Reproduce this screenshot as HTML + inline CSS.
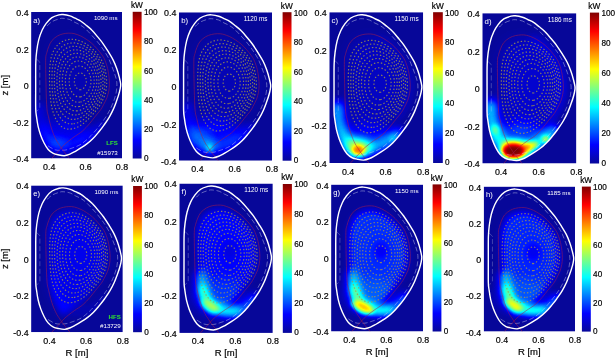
<!DOCTYPE html>
<html lang="en"><head><meta charset="utf-8"><title>Radiation tomography LFS vs HFS</title>
<style>html,body{margin:0;padding:0;background:#fff}body{width:616px;height:360px;overflow:hidden}svg{display:block}text{font-family:"Liberation Sans",Arial,Helvetica,sans-serif;fill:#000}.t{font-size:8.9px}.c{font-size:8.2px}.t,.c,.l{stroke:#000;stroke-width:.18px}.l{font-size:9.5px}.w{fill:#fff;font-size:6.2px}.p{fill:#fff;font-size:7.6px}</style></head><body>
<svg width="616" height="360" viewBox="0 0 616 360">
<defs>
<linearGradient id="jet" x1="0" y1="1" x2="0" y2="0">
<stop offset="0" stop-color="#08089a"/>
<stop offset="0.125" stop-color="#0000ff"/>
<stop offset="0.375" stop-color="#00ffff"/>
<stop offset="0.625" stop-color="#ffff00"/>
<stop offset="0.875" stop-color="#ff0000"/>
<stop offset="1" stop-color="#800000"/>
</linearGradient>
<filter id="jm" x="0" y="0" width="100%" height="100%" filterUnits="objectBoundingBox" color-interpolation-filters="sRGB"><feComponentTransfer><feFuncR type="table" tableValues="0.03 0 0 0 0.5 1 1 1 0.5"/><feFuncG type="table" tableValues="0.03 0 0.5 1 1 1 0.5 0 0"/><feFuncB type="table" tableValues="0.6 1 1 1 0.5 0 0 0 0"/></feComponentTransfer></filter>
<filter id="b2" x="-100%" y="-100%" width="300%" height="300%" color-interpolation-filters="sRGB"><feGaussianBlur stdDeviation="2"/></filter>
<filter id="b3" x="-100%" y="-100%" width="300%" height="300%" color-interpolation-filters="sRGB"><feGaussianBlur stdDeviation="3"/></filter>
<filter id="b4" x="-100%" y="-100%" width="300%" height="300%" color-interpolation-filters="sRGB"><feGaussianBlur stdDeviation="4"/></filter>
<filter id="b6" x="-100%" y="-100%" width="300%" height="300%" color-interpolation-filters="sRGB"><feGaussianBlur stdDeviation="6"/></filter>
<filter id="b8" x="-100%" y="-100%" width="300%" height="300%" color-interpolation-filters="sRGB"><feGaussianBlur stdDeviation="8"/></filter>
<filter id="b12" x="-100%" y="-100%" width="300%" height="300%" color-interpolation-filters="sRGB"><feGaussianBlur stdDeviation="12"/></filter>
<path id="ves" d="M31.9 2.5C33.8 2.7 36.9 3.3 38.9 3.9C40.9 4.5 42.2 5.4 44.0 6.2C45.8 7.1 47.8 7.8 49.6 9.0C51.5 10.2 53.2 11.7 55.1 13.2C57.0 14.7 58.9 16.1 60.7 18.0C62.6 19.9 64.4 22.1 66.2 24.3C68.0 26.5 70.0 28.7 71.8 31.2C73.6 33.8 75.6 36.8 77.3 39.6C79.0 42.4 80.8 45.1 82.2 47.9C83.6 50.7 84.7 53.5 85.7 56.3C86.7 59.1 87.6 62.2 88.2 64.7C88.8 67.2 89.4 69.5 89.6 71.0C89.8 72.5 89.8 72.5 89.6 74.0C89.4 75.5 89.1 77.5 88.4 79.9C87.8 82.3 86.7 85.6 85.7 88.3C84.7 91.0 83.8 93.6 82.6 96.3C81.4 99.0 79.9 101.9 78.3 104.7C76.7 107.5 74.6 110.4 72.8 113.0C71.0 115.6 69.0 118.0 67.2 120.2C65.4 122.4 63.6 124.5 61.7 126.3C59.9 128.1 58.0 129.8 56.1 131.2C54.2 132.6 52.6 133.7 50.6 135.0C48.6 136.3 46.4 137.7 44.4 138.8C42.4 139.9 40.8 140.9 38.9 141.6C37.0 142.3 35.1 143.0 33.3 143.2C31.4 143.3 29.6 142.9 27.8 142.5C26.0 142.1 24.0 141.8 22.2 140.9C20.4 140.0 18.6 138.7 17.1 137.0C15.6 135.3 14.2 133.0 13.0 130.6C11.8 128.2 10.6 125.6 9.6 122.8C8.6 120.0 7.7 117.1 7.0 114.0C6.3 110.9 5.8 107.3 5.4 104.3C5.0 101.3 4.7 101.4 4.6 96.0C4.5 90.6 4.6 79.7 4.6 72.0C4.6 64.3 4.5 55.5 4.7 50.0C4.9 44.5 5.1 42.6 5.6 38.9C6.1 35.2 6.7 31.3 7.6 27.8C8.5 24.3 9.8 20.8 11.1 18.0C12.4 15.2 13.7 13.2 15.3 11.1C16.9 9.0 18.7 7.0 20.8 5.6C22.9 4.2 26.0 3.3 27.8 2.8C29.6 2.3 30.0 2.3 31.9 2.5Z"/>
<clipPath id="vc"><use href="#ves"/></clipPath>
<path id="sep" d="M30.2 135.6C29.9 135.1 29.2 134.0 28.5 132.8C27.8 131.6 26.8 130.6 25.7 128.6C24.6 126.6 23.2 123.7 22.2 121.0C21.1 118.3 20.2 115.5 19.4 112.7C18.6 109.9 18.0 107.1 17.4 104.3C16.8 101.5 16.2 100.8 15.8 96.0C15.4 91.2 15.2 83.8 15.0 75.8C14.8 67.8 14.5 53.9 14.6 48.0C14.7 42.1 15.3 42.5 15.8 40.3C16.3 38.1 16.8 36.7 17.6 34.7C18.4 32.7 19.3 30.3 20.8 28.5C22.3 26.7 24.5 25.0 26.4 23.9C28.2 22.8 30.0 22.3 31.9 21.8C33.8 21.3 35.6 21.2 37.5 21.1C39.4 21.1 41.0 21.0 43.0 21.5C45.0 22.0 47.6 23.0 49.6 23.9C51.6 24.8 53.2 25.9 55.1 27.1C57.0 28.3 58.9 29.6 60.7 31.2C62.6 32.9 64.5 34.8 66.2 36.8C67.9 38.8 69.8 41.1 71.1 43.0C72.4 44.9 73.0 45.8 73.9 48.0C74.8 50.2 75.9 53.5 76.6 56.3C77.3 59.1 77.7 62.2 78.0 64.7C78.3 67.2 78.4 69.3 78.4 71.6C78.4 73.9 78.2 76.3 77.8 78.6C77.3 80.9 76.8 83.2 75.9 85.5C75.0 87.8 73.5 90.4 72.5 92.4C71.5 94.4 71.1 95.3 69.7 97.3C68.3 99.3 65.9 101.9 64.0 104.3C62.1 106.7 60.4 109.1 58.3 111.5C56.2 113.9 54.0 116.4 51.5 118.6C49.0 120.8 45.3 122.8 43.0 124.5C40.7 126.2 39.2 127.2 37.5 128.6C35.8 130.0 33.8 131.6 32.6 132.8C31.4 134.0 30.6 135.1 30.2 135.6"/>
<path id="leg" d="M30.2 135.6L25 141.1L20.5 146M30.2 135.6L34 140.4L38.5 146"/>
<path id="dw" d="M16.0 13.9C16.8 13.2 18.8 10.9 20.8 9.7C22.8 8.5 26.0 7.5 27.8 6.9C29.6 6.3 30.0 6.2 31.9 6.3C33.8 6.4 36.9 6.9 38.9 7.6C40.9 8.3 42.2 9.5 44.0 10.4C45.8 11.3 47.8 12.0 49.6 13.2C51.5 14.4 52.6 15.0 55.1 17.4C57.6 19.8 62.0 24.6 64.8 27.8C67.6 31.0 69.8 34.0 71.8 36.8C73.8 39.6 75.5 42.5 76.6 44.4C77.7 46.3 77.5 45.8 78.4 48.0C79.3 50.2 81.1 54.7 82.2 57.7C83.3 60.7 84.4 63.6 85.0 66.0C85.6 68.4 85.9 70.0 85.9 72.3C85.9 74.6 85.7 77.4 85.2 80.0C84.7 82.6 83.9 85.4 83.0 88.0C82.1 90.6 81.1 92.9 79.8 95.6C78.5 98.3 77.1 101.0 75.2 104.0C73.3 107.0 70.9 110.2 68.4 113.4C65.9 116.6 62.8 120.3 60.0 123.2C57.2 126.1 54.0 128.8 51.6 130.6C49.2 132.4 47.5 133.1 45.4 134.0C43.3 134.9 40.9 135.7 38.9 136.3C36.9 136.9 35.7 137.5 33.3 137.7C30.9 137.9 27.2 138.2 24.3 137.4C21.4 136.6 17.4 133.6 16.0 132.8"/><path id="dl" d="M5.4 46.8L8.7 50L8.7 96L5.6 99"/>
<g id="flux" fill="none" stroke="#a89a46" stroke-opacity="0.8" stroke-width="1.15" stroke-dasharray="1.4 2"><path d="M49.5 77.5C48.2 77.6 46.5 76.7 45.5 75.7C44.5 74.8 43.9 73.1 43.6 71.6C43.2 70.2 43.2 68.6 43.4 67.1C43.7 65.6 44.2 64.0 45.1 62.9C46.0 61.8 47.6 60.7 48.9 60.7C50.2 60.6 51.9 61.5 52.9 62.5C53.9 63.5 54.6 65.1 55.0 66.5C55.4 67.9 55.4 69.6 55.1 71.0C54.8 72.5 54.2 74.1 53.3 75.2C52.4 76.3 50.8 77.4 49.5 77.5Z"/><path d="M49.5 84.6C47.9 84.8 45.9 84.4 44.5 83.7C43.0 82.9 41.8 81.4 40.9 80.0C39.9 78.5 39.3 76.8 38.9 75.1C38.4 73.5 38.2 71.7 38.1 70.0C38.1 68.3 38.1 66.5 38.5 64.8C38.8 63.1 39.2 61.3 40.0 59.8C40.8 58.3 41.8 56.7 43.1 55.7C44.4 54.7 46.2 53.9 47.9 53.8C49.5 53.7 51.4 54.3 52.8 55.1C54.3 55.9 55.6 57.2 56.7 58.6C57.7 60.0 58.5 61.6 59.0 63.2C59.6 64.9 59.9 66.6 59.9 68.4C60.0 70.1 59.8 71.9 59.4 73.5C59.0 75.2 58.4 76.9 57.5 78.4C56.6 79.8 55.5 81.3 54.2 82.3C52.8 83.4 51.1 84.3 49.5 84.6Z"/><path d="M48.8 89.8C47.2 90.1 45.4 89.9 43.9 89.4C42.4 88.8 40.9 87.7 39.8 86.5C38.6 85.3 37.8 83.8 37.0 82.3C36.3 80.8 35.8 79.1 35.4 77.5C34.9 75.9 34.7 74.2 34.5 72.6C34.3 70.9 34.3 69.2 34.3 67.5C34.4 65.8 34.6 64.1 34.9 62.5C35.2 60.9 35.6 59.2 36.3 57.6C36.9 56.1 37.7 54.5 38.7 53.3C39.8 52.0 41.1 50.8 42.6 50.0C44.0 49.3 45.8 48.8 47.4 48.8C49.0 48.8 50.8 49.3 52.3 49.9C53.8 50.6 55.2 51.6 56.5 52.7C57.7 53.8 58.8 55.2 59.7 56.6C60.6 58.0 61.3 59.6 61.9 61.1C62.4 62.7 62.8 64.4 63.0 66.0C63.2 67.7 63.3 69.4 63.1 71.1C63.0 72.7 62.7 74.4 62.2 76.0C61.8 77.6 61.1 79.2 60.3 80.7C59.5 82.1 58.5 83.6 57.4 84.8C56.2 86.0 54.9 87.2 53.5 88.0C52.1 88.9 50.4 89.6 48.8 89.8Z"/><path d="M48.5 94.2C46.9 94.5 45.0 94.5 43.4 94.1C41.8 93.7 40.2 92.8 38.9 91.7C37.6 90.6 36.6 89.2 35.7 87.7C34.8 86.3 34.1 84.7 33.5 83.1C32.9 81.5 32.5 79.8 32.1 78.1C31.8 76.5 31.6 74.7 31.4 73.0C31.3 71.3 31.2 69.6 31.2 67.9C31.2 66.2 31.4 64.5 31.6 62.8C31.8 61.1 32.1 59.4 32.6 57.7C33.1 56.1 33.6 54.5 34.4 53.0C35.2 51.5 36.2 50.0 37.4 48.8C38.6 47.6 40.0 46.5 41.5 45.8C43.1 45.1 44.9 44.8 46.5 44.8C48.2 44.8 50.0 45.2 51.6 45.7C53.1 46.3 54.7 47.2 56.0 48.2C57.4 49.2 58.7 50.5 59.8 51.8C60.8 53.1 61.8 54.5 62.6 56.0C63.4 57.5 64.0 59.2 64.5 60.8C65.0 62.4 65.4 64.1 65.6 65.8C65.8 67.5 65.8 69.3 65.7 71.0C65.6 72.7 65.4 74.4 65.0 76.0C64.6 77.7 64.0 79.3 63.3 80.9C62.6 82.4 61.7 83.9 60.7 85.3C59.7 86.7 58.6 88.1 57.3 89.2C56.1 90.4 54.7 91.5 53.3 92.3C51.8 93.1 50.1 93.9 48.5 94.2Z"/><path d="M46.2 98.5C44.5 98.7 42.7 98.5 41.1 97.9C39.5 97.4 38.0 96.4 36.8 95.3C35.5 94.1 34.5 92.7 33.6 91.3C32.7 89.8 32.0 88.2 31.4 86.6C30.8 85.0 30.3 83.4 29.9 81.7C29.5 80.1 29.2 78.4 29.0 76.7C28.8 75.0 28.6 73.3 28.5 71.6C28.4 69.8 28.4 68.1 28.5 66.4C28.5 64.7 28.7 63.0 28.9 61.3C29.1 59.6 29.4 57.9 29.8 56.3C30.3 54.6 30.8 52.9 31.5 51.4C32.2 49.9 33.0 48.3 34.1 47.0C35.1 45.7 36.4 44.4 37.8 43.5C39.2 42.6 40.9 41.8 42.5 41.5C44.1 41.1 45.9 41.1 47.6 41.3C49.3 41.5 51.0 42.1 52.5 42.7C54.1 43.4 55.5 44.3 56.9 45.4C58.3 46.4 59.5 47.6 60.7 48.9C61.8 50.1 62.8 51.6 63.7 53.0C64.5 54.5 65.3 56.1 65.9 57.6C66.5 59.2 66.9 60.9 67.3 62.6C67.6 64.2 67.9 66.0 67.9 67.7C68.0 69.4 68.0 71.1 67.8 72.8C67.6 74.5 67.3 76.2 66.9 77.8C66.4 79.5 65.8 81.1 65.1 82.6C64.3 84.2 63.5 85.7 62.5 87.1C61.6 88.5 60.5 89.8 59.3 91.1C58.1 92.3 56.9 93.5 55.5 94.5C54.1 95.5 52.6 96.5 51.1 97.1C49.5 97.8 47.8 98.4 46.2 98.5Z"/><path d="M45.5 102.5C43.8 102.7 42.0 102.7 40.4 102.2C38.8 101.8 37.3 100.9 35.9 99.9C34.6 98.9 33.5 97.6 32.5 96.2C31.5 94.8 30.7 93.3 30.0 91.8C29.3 90.2 28.7 88.6 28.3 87.0C27.8 85.3 27.4 83.7 27.1 82.0C26.8 80.3 26.5 78.6 26.3 76.9C26.2 75.3 26.0 73.6 25.9 71.9C25.9 70.2 25.8 68.5 25.9 66.8C25.9 65.1 26.0 63.4 26.1 61.7C26.3 60.0 26.5 58.3 26.8 56.6C27.2 54.9 27.5 53.3 28.1 51.7C28.6 50.0 29.2 48.4 30.1 47.0C30.9 45.5 31.8 44.0 33.0 42.8C34.1 41.6 35.5 40.4 37.0 39.6C38.4 38.8 40.1 38.2 41.8 37.9C43.4 37.7 45.2 37.7 46.8 37.9C48.5 38.1 50.2 38.6 51.7 39.2C53.3 39.9 54.8 40.7 56.2 41.7C57.6 42.6 59.0 43.7 60.2 44.9C61.4 46.1 62.5 47.4 63.5 48.7C64.5 50.1 65.4 51.6 66.2 53.1C67.0 54.6 67.6 56.2 68.1 57.8C68.7 59.4 69.1 61.1 69.4 62.7C69.7 64.4 69.9 66.1 70.0 67.8C70.1 69.5 70.0 71.2 69.9 72.9C69.7 74.6 69.4 76.3 69.0 77.9C68.6 79.6 68.0 81.2 67.4 82.7C66.7 84.3 65.9 85.8 65.1 87.3C64.2 88.7 63.2 90.1 62.1 91.5C61.1 92.8 59.9 94.1 58.7 95.2C57.5 96.4 56.1 97.5 54.8 98.5C53.4 99.5 51.9 100.4 50.4 101.1C48.8 101.7 47.2 102.3 45.5 102.5Z"/><path d="M44.5 106.8C42.8 107.1 41.1 107.1 39.4 106.8C37.8 106.4 36.2 105.7 34.8 104.7C33.4 103.8 32.2 102.5 31.2 101.2C30.1 99.9 29.3 98.4 28.5 96.9C27.7 95.3 27.1 93.7 26.6 92.1C26.0 90.5 25.6 88.9 25.2 87.2C24.8 85.6 24.5 83.9 24.3 82.2C24.0 80.5 23.8 78.8 23.7 77.2C23.5 75.5 23.4 73.8 23.4 72.1C23.3 70.4 23.3 68.7 23.3 67.0C23.3 65.3 23.3 63.6 23.4 61.9C23.5 60.2 23.7 58.5 23.9 56.8C24.2 55.1 24.4 53.4 24.8 51.8C25.2 50.1 25.7 48.5 26.4 46.9C27.0 45.4 27.7 43.8 28.7 42.4C29.6 41.0 30.7 39.6 32.0 38.5C33.2 37.4 34.7 36.4 36.2 35.7C37.7 35.0 39.4 34.5 41.1 34.3C42.7 34.1 44.5 34.2 46.1 34.4C47.8 34.7 49.5 35.2 51.0 35.8C52.6 36.4 54.1 37.2 55.6 38.1C57.0 39.0 58.4 40.0 59.7 41.1C60.9 42.2 62.2 43.5 63.3 44.7C64.4 46.0 65.4 47.4 66.3 48.8C67.2 50.3 68.0 51.8 68.7 53.3C69.4 54.9 69.9 56.5 70.4 58.1C70.8 59.8 71.2 61.4 71.5 63.1C71.7 64.8 71.9 66.5 72.0 68.2C72.0 69.9 72.0 71.6 71.9 73.3C71.7 74.9 71.4 76.6 71.0 78.3C70.6 79.9 70.1 81.6 69.5 83.1C68.9 84.7 68.1 86.3 67.3 87.7C66.5 89.2 65.6 90.7 64.6 92.0C63.6 93.4 62.5 94.7 61.3 96.0C60.2 97.2 59.0 98.4 57.7 99.6C56.5 100.7 55.1 101.8 53.7 102.8C52.3 103.7 50.9 104.6 49.3 105.3C47.8 106.0 46.2 106.6 44.5 106.8Z"/><path d="M41.5 111.5C39.8 111.6 38.1 111.5 36.5 111.0C34.9 110.5 33.4 109.5 32.1 108.5C30.8 107.5 29.7 106.1 28.7 104.7C27.7 103.4 26.9 101.8 26.2 100.3C25.4 98.8 24.9 97.2 24.3 95.6C23.8 94.0 23.4 92.3 23.0 90.7C22.6 89.0 22.4 87.3 22.1 85.7C21.9 84.0 21.7 82.3 21.5 80.6C21.3 78.9 21.2 77.2 21.1 75.6C21.0 73.9 20.9 72.2 20.9 70.5C20.9 68.8 20.8 67.1 20.8 65.4C20.9 63.7 20.9 62.0 21.0 60.3C21.1 58.6 21.2 56.9 21.4 55.3C21.6 53.6 21.9 51.9 22.2 50.2C22.6 48.6 23.0 46.9 23.5 45.3C24.1 43.7 24.8 42.2 25.6 40.7C26.5 39.2 27.5 37.8 28.6 36.6C29.8 35.4 31.1 34.2 32.5 33.4C33.9 32.5 35.6 31.8 37.2 31.4C38.8 31.0 40.5 30.8 42.2 30.8C43.9 30.8 45.6 31.1 47.2 31.5C48.9 31.9 50.5 32.5 52.0 33.2C53.5 33.9 55.0 34.8 56.4 35.7C57.8 36.6 59.2 37.7 60.4 38.8C61.7 39.9 62.9 41.1 64.0 42.4C65.2 43.7 66.2 45.0 67.2 46.4C68.1 47.8 68.9 49.3 69.7 50.8C70.4 52.3 71.0 53.9 71.6 55.5C72.1 57.1 72.5 58.8 72.8 60.4C73.2 62.1 73.4 63.8 73.6 65.5C73.8 67.1 73.9 68.9 73.8 70.5C73.8 72.2 73.7 73.9 73.5 75.6C73.2 77.3 72.9 78.9 72.4 80.6C71.9 82.2 71.3 83.8 70.7 85.3C70.0 86.9 69.2 88.4 68.4 89.9C67.5 91.3 66.6 92.8 65.6 94.1C64.6 95.5 63.5 96.8 62.4 98.1C61.3 99.3 60.1 100.6 58.9 101.7C57.7 102.9 56.4 104.1 55.1 105.2C53.8 106.2 52.4 107.3 51.0 108.1C49.5 109.0 48.0 109.8 46.4 110.4C44.9 110.9 43.2 111.4 41.5 111.5Z"/><path d="M40.8 116.5C39.2 116.8 37.4 116.9 35.8 116.6C34.1 116.3 32.5 115.5 31.1 114.6C29.7 113.7 28.5 112.3 27.5 111.0C26.4 109.7 25.6 108.2 24.8 106.7C24.0 105.2 23.4 103.6 22.8 102.0C22.2 100.4 21.7 98.7 21.3 97.1C20.8 95.5 20.5 93.8 20.2 92.1C19.9 90.4 19.7 88.7 19.5 87.0C19.3 85.4 19.2 83.7 19.0 82.0C18.9 80.3 18.8 78.6 18.7 76.9C18.6 75.2 18.6 73.5 18.5 71.8C18.5 70.1 18.4 68.4 18.4 66.7C18.4 65.0 18.4 63.2 18.4 61.5C18.5 59.8 18.5 58.1 18.6 56.4C18.7 54.7 18.9 53.0 19.1 51.3C19.3 49.7 19.5 48.0 19.9 46.3C20.2 44.7 20.7 43.0 21.3 41.4C22.0 39.8 22.7 38.3 23.6 36.8C24.5 35.4 25.5 34.0 26.7 32.8C27.9 31.6 29.3 30.5 30.7 29.7C32.2 28.9 33.8 28.2 35.5 27.8C37.1 27.4 38.8 27.2 40.5 27.2C42.2 27.2 43.9 27.4 45.6 27.8C47.2 28.2 48.9 28.7 50.4 29.4C52.0 30.1 53.5 30.9 54.9 31.8C56.4 32.6 57.8 33.6 59.1 34.7C60.5 35.7 61.7 36.9 62.9 38.1C64.1 39.3 65.3 40.5 66.4 41.9C67.4 43.2 68.5 44.6 69.4 46.0C70.2 47.4 71.0 49.0 71.7 50.5C72.4 52.1 73.0 53.7 73.5 55.3C73.9 57.0 74.3 58.6 74.7 60.3C75.0 62.0 75.2 63.6 75.4 65.3C75.6 67.0 75.7 68.7 75.7 70.4C75.7 72.1 75.6 73.9 75.4 75.5C75.1 77.2 74.8 78.9 74.4 80.5C74.0 82.2 73.4 83.8 72.8 85.4C72.1 87.0 71.3 88.5 70.5 90.0C69.7 91.5 68.9 93.0 67.9 94.4C67.0 95.8 65.9 97.1 64.8 98.4C63.8 99.8 62.6 101.0 61.5 102.3C60.3 103.6 59.2 104.8 58.0 106.0C56.8 107.2 55.6 108.4 54.3 109.5C53.0 110.6 51.6 111.7 50.2 112.6C48.8 113.5 47.3 114.4 45.7 115.0C44.1 115.7 42.5 116.3 40.8 116.5Z"/></g>
</defs>
<!-- panels -->
<svg x="31.1" y="12" width="90.9" height="146.5" viewBox="0 0 91 146" preserveAspectRatio="none" overflow="hidden">
<g filter="url(#jm)"><rect x="0" y="0" width="91" height="146" fill="#000"/>
<g clip-path="url(#vc)">
<path d="M31.5 130.5C30.8 130.5 30.6 129.0 29.9 127.9C29.2 126.9 28.3 125.9 27.3 124.1C26.4 122.3 25.1 119.5 24.1 117.1C23.1 114.6 22.3 112.0 21.5 109.4C20.8 106.9 20.2 104.3 19.7 101.7C19.1 99.2 18.6 98.5 18.2 94.1C17.8 89.7 17.7 82.9 17.5 75.5C17.3 68.1 17.0 55.4 17.1 49.9C17.2 44.5 17.8 44.9 18.2 42.8C18.7 40.8 19.1 39.5 19.9 37.7C20.6 35.9 21.5 33.6 22.8 32.0C24.2 30.3 26.3 28.8 28.0 27.7C29.7 26.7 31.3 26.2 33.0 25.8C34.7 25.4 36.5 25.2 38.2 25.2C39.9 25.1 41.4 25.1 43.2 25.5C45.1 26.0 47.5 26.9 49.3 27.7C51.2 28.6 52.7 29.6 54.4 30.7C56.1 31.8 57.8 33.0 59.5 34.5C61.2 36.0 63.0 37.8 64.6 39.6C66.2 41.4 67.9 43.6 69.1 45.3C70.3 47.0 70.8 47.9 71.7 49.9C72.5 52.0 73.5 55.0 74.2 57.6C74.8 60.1 75.2 62.9 75.4 65.3C75.7 67.6 75.8 69.5 75.8 71.6C75.8 73.8 75.6 75.9 75.2 78.1C74.8 80.2 74.3 82.3 73.5 84.4C72.7 86.5 71.3 89.0 70.4 90.8C69.4 92.6 69.1 93.5 67.8 95.3C66.5 97.1 64.3 99.5 62.6 101.7C60.8 103.9 59.2 106.1 57.3 108.3C55.4 110.5 53.4 112.9 51.1 114.9C48.7 116.9 45.4 118.8 43.2 120.3C41.1 121.8 39.8 122.8 38.2 124.1C36.6 125.3 34.8 126.9 33.7 127.9C32.6 129.0 32.1 130.5 31.5 130.5Z" fill="#fff" fill-opacity="0.03" filter="url(#b6)"/>
<ellipse cx="32" cy="124" rx="30" ry="16" fill="#fff" fill-opacity="0.075" filter="url(#b6)"/>
<path d="M8 96 C9 114 15 128 28 133 C42 134 56 127 70 115" fill="none" stroke="#fff" stroke-opacity="0.085" stroke-width="12" stroke-linecap="round" filter="url(#b4)"/>
<ellipse cx="27" cy="131" rx="10" ry="7" fill="#fff" fill-opacity="0.07" filter="url(#b4)"/>
</g></g>
<use href="#flux"/>
<g fill="none" stroke="#cfd3ee" stroke-width="0.75" stroke-dasharray="5 2.5"><use href="#dw" stroke-opacity="0.6"/><use href="#dl" stroke-opacity="0.38"/></g>
<g fill="none" stroke="#a81c48" stroke-opacity="0.75" stroke-width="0.7"><use href="#sep"/><use href="#leg"/></g>
<use href="#ves" fill="none" stroke="#fff" stroke-width="1.4"/>
<text class="p" x="2.2" y="10.6">a)</text>
<text class="w" x="86.6" y="8.2" text-anchor="end">1090 ms</text>
<text x="86.8" y="132.5" text-anchor="end" font-size="6.1" font-weight="bold" style="fill:#2fe62f">LFS</text>
<text class="w" x="86.8" y="142.2" text-anchor="end">#15973</text>
</svg>
<rect x="132.7" y="11.8" width="8.9" height="146.7" fill="url(#jet)"/>
<text class="c" x="143.9" y="160.9">0</text>
<text class="c" x="143.9" y="132.26">20</text>
<text class="c" x="143.9" y="102.92">40</text>
<text class="c" x="143.9" y="73.58">60</text>
<text class="c" x="143.9" y="44.24">80</text>
<text class="c" x="143.9" y="15.2">100</text>
<text class="t" style="font-size:8.3px" x="136.95" y="8.2" text-anchor="middle">kW</text>
<text class="t" x="28.6" y="15.9" text-anchor="end">0.4</text>
<text class="t" x="28.6" y="52.525" text-anchor="end">0.2</text>
<text class="t" x="28.6" y="89.15" text-anchor="end">0</text>
<text class="t" x="28.6" y="125.775" text-anchor="end">-0.2</text>
<text class="t" x="28.6" y="162.4" text-anchor="end">-0.4</text>
<text class="t" x="49.28" y="170" text-anchor="middle">0.4</text>
<text class="t" x="85.64" y="170" text-anchor="middle">0.6</text>
<text class="t" x="122" y="170" text-anchor="middle">0.8</text>
<text class="l" transform="translate(8.3 85.25) rotate(-90)" text-anchor="middle">z [m]</text>
<svg x="178.9" y="12.3" width="93.1" height="148.4" viewBox="0 0 91 146" preserveAspectRatio="none" overflow="hidden">
<g filter="url(#jm)"><rect x="0" y="0" width="91" height="146" fill="#000"/>
<g clip-path="url(#vc)">
<path d="M31.5 130.5C30.8 130.5 30.6 129.0 29.9 127.9C29.2 126.9 28.3 125.9 27.3 124.1C26.4 122.3 25.1 119.5 24.1 117.1C23.1 114.6 22.3 112.0 21.5 109.4C20.8 106.9 20.2 104.3 19.7 101.7C19.1 99.2 18.6 98.5 18.2 94.1C17.8 89.7 17.7 82.9 17.5 75.5C17.3 68.1 17.0 55.4 17.1 49.9C17.2 44.5 17.8 44.9 18.2 42.8C18.7 40.8 19.1 39.5 19.9 37.7C20.6 35.9 21.5 33.6 22.8 32.0C24.2 30.3 26.3 28.8 28.0 27.7C29.7 26.7 31.3 26.2 33.0 25.8C34.7 25.4 36.5 25.2 38.2 25.2C39.9 25.1 41.4 25.1 43.2 25.5C45.1 26.0 47.5 26.9 49.3 27.7C51.2 28.6 52.7 29.6 54.4 30.7C56.1 31.8 57.8 33.0 59.5 34.5C61.2 36.0 63.0 37.8 64.6 39.6C66.2 41.4 67.9 43.6 69.1 45.3C70.3 47.0 70.8 47.9 71.7 49.9C72.5 52.0 73.5 55.0 74.2 57.6C74.8 60.1 75.2 62.9 75.4 65.3C75.7 67.6 75.8 69.5 75.8 71.6C75.8 73.8 75.6 75.9 75.2 78.1C74.8 80.2 74.3 82.3 73.5 84.4C72.7 86.5 71.3 89.0 70.4 90.8C69.4 92.6 69.1 93.5 67.8 95.3C66.5 97.1 64.3 99.5 62.6 101.7C60.8 103.9 59.2 106.1 57.3 108.3C55.4 110.5 53.4 112.9 51.1 114.9C48.7 116.9 45.4 118.8 43.2 120.3C41.1 121.8 39.8 122.8 38.2 124.1C36.6 125.3 34.8 126.9 33.7 127.9C32.6 129.0 32.1 130.5 31.5 130.5Z" fill="#fff" fill-opacity="0.035" filter="url(#b6)"/>
<ellipse cx="32" cy="122" rx="32" ry="17" fill="#fff" fill-opacity="0.1" filter="url(#b6)"/>
<path d="M8 94 C9 114 15 128 28 133 C42 134 56 127 70 115" fill="none" stroke="#fff" stroke-opacity="0.1" stroke-width="12" stroke-linecap="round" filter="url(#b4)"/>
<ellipse cx="22" cy="122" rx="10" ry="9" fill="#fff" fill-opacity="0.08" filter="url(#b4)"/>
<ellipse cx="30" cy="131" rx="8" ry="7" fill="#fff" fill-opacity="0.1" filter="url(#b3)"/>
<ellipse cx="30" cy="134" rx="2.6" ry="4" fill="#fff" fill-opacity="0.22" filter="url(#b2)"/>
</g></g>
<use href="#flux"/>
<g fill="none" stroke="#cfd3ee" stroke-width="0.75" stroke-dasharray="5 2.5"><use href="#dw" stroke-opacity="0.6"/><use href="#dl" stroke-opacity="0.38"/></g>
<g fill="none" stroke="#a81c48" stroke-opacity="0.75" stroke-width="0.7"><use href="#sep"/><use href="#leg"/></g>
<use href="#ves" fill="none" stroke="#fff" stroke-width="1.4"/>
<text class="p" x="2.2" y="10.6">b)</text>
<text class="w" x="86.6" y="8.2" text-anchor="end">1120 ms</text>
</svg>
<rect x="282.6" y="12.2" width="8.9" height="148.5" fill="url(#jet)"/>
<text class="c" x="293.8" y="163.1">0</text>
<text class="c" x="293.8" y="134.1">20</text>
<text class="c" x="293.8" y="104.4">40</text>
<text class="c" x="293.8" y="74.7">60</text>
<text class="c" x="293.8" y="45">80</text>
<text class="c" x="293.8" y="15.6">100</text>
<text class="t" style="font-size:8.3px" x="286.85" y="8.6" text-anchor="middle">kW</text>
<text class="t" x="176.4" y="16.2" text-anchor="end">0.4</text>
<text class="t" x="176.4" y="53.3" text-anchor="end">0.2</text>
<text class="t" x="176.4" y="90.4" text-anchor="end">0</text>
<text class="t" x="176.4" y="127.5" text-anchor="end">-0.2</text>
<text class="t" x="176.4" y="164.6" text-anchor="end">-0.4</text>
<text class="t" x="197.52" y="172.2" text-anchor="middle">0.4</text>
<text class="t" x="234.76" y="172.2" text-anchor="middle">0.6</text>
<text class="t" x="272" y="172.2" text-anchor="middle">0.8</text>
<svg x="329.3" y="12.2" width="93.9" height="150.8" viewBox="0 0 91 146" preserveAspectRatio="none" overflow="hidden">
<g filter="url(#jm)"><rect x="0" y="0" width="91" height="146" fill="#000"/>
<g clip-path="url(#vc)">
<path d="M31.5 130.5C30.8 130.5 30.6 129.0 29.9 127.9C29.2 126.9 28.3 125.9 27.3 124.1C26.4 122.3 25.1 119.5 24.1 117.1C23.1 114.6 22.3 112.0 21.5 109.4C20.8 106.9 20.2 104.3 19.7 101.7C19.1 99.2 18.6 98.5 18.2 94.1C17.8 89.7 17.7 82.9 17.5 75.5C17.3 68.1 17.0 55.4 17.1 49.9C17.2 44.5 17.8 44.9 18.2 42.8C18.7 40.8 19.1 39.5 19.9 37.7C20.6 35.9 21.5 33.6 22.8 32.0C24.2 30.3 26.3 28.8 28.0 27.7C29.7 26.7 31.3 26.2 33.0 25.8C34.7 25.4 36.5 25.2 38.2 25.2C39.9 25.1 41.4 25.1 43.2 25.5C45.1 26.0 47.5 26.9 49.3 27.7C51.2 28.6 52.7 29.6 54.4 30.7C56.1 31.8 57.8 33.0 59.5 34.5C61.2 36.0 63.0 37.8 64.6 39.6C66.2 41.4 67.9 43.6 69.1 45.3C70.3 47.0 70.8 47.9 71.7 49.9C72.5 52.0 73.5 55.0 74.2 57.6C74.8 60.1 75.2 62.9 75.4 65.3C75.7 67.6 75.8 69.5 75.8 71.6C75.8 73.8 75.6 75.9 75.2 78.1C74.8 80.2 74.3 82.3 73.5 84.4C72.7 86.5 71.3 89.0 70.4 90.8C69.4 92.6 69.1 93.5 67.8 95.3C66.5 97.1 64.3 99.5 62.6 101.7C60.8 103.9 59.2 106.1 57.3 108.3C55.4 110.5 53.4 112.9 51.1 114.9C48.7 116.9 45.4 118.8 43.2 120.3C41.1 121.8 39.8 122.8 38.2 124.1C36.6 125.3 34.8 126.9 33.7 127.9C32.6 129.0 32.1 130.5 31.5 130.5Z" fill="#fff" fill-opacity="0.05" filter="url(#b6)"/>
<path d="M50 26 C64 33 76 52 77 72 C77 84 72 94 66 102" fill="none" stroke="#fff" stroke-opacity="0.035" stroke-width="10" stroke-linecap="round" filter="url(#b4)"/>
<ellipse cx="36" cy="122" rx="30" ry="13" fill="#fff" fill-opacity="0.1" filter="url(#b6)"/>
<path d="M8 92 C8 112 14 127 28 132" fill="none" stroke="#fff" stroke-opacity="0.31" stroke-width="12" stroke-linecap="round" filter="url(#b4)"/>
<path d="M28 132 C42 133 55 127 67 117" fill="none" stroke="#fff" stroke-opacity="0.27" stroke-width="10" stroke-linecap="round" filter="url(#b4)"/>
<ellipse cx="28" cy="131.5" rx="14" ry="10" fill="#fff" fill-opacity="0.3" filter="url(#b4)"/>
<ellipse cx="28" cy="134" rx="6.5" ry="4.8" fill="#fff" fill-opacity="0.42" filter="url(#b2)"/>
<ellipse cx="28" cy="134" rx="1.6" ry="2.6" fill="#fff" fill-opacity="0.35" filter="url(#b2)"/>
<ellipse cx="62.4" cy="122.3" rx="4" ry="3" fill="#fff" fill-opacity="0.12" filter="url(#b2)"/>
</g></g>
<use href="#flux"/>
<g fill="none" stroke="#cfd3ee" stroke-width="0.75" stroke-dasharray="5 2.5"><use href="#dw" stroke-opacity="0.6"/><use href="#dl" stroke-opacity="0.38"/></g>
<g fill="none" stroke="#a81c48" stroke-opacity="0.75" stroke-width="0.7"><use href="#sep"/><use href="#leg"/></g>
<use href="#ves" fill="none" stroke="#fff" stroke-width="1.4"/>
<text class="p" x="2.2" y="10.6">c)</text>
<text class="w" x="86.6" y="8.2" text-anchor="end">1150 ms</text>
</svg>
<rect x="433.1" y="12.2" width="9.7" height="150.8" fill="url(#jet)"/>
<text class="c" x="445.1" y="165.4">0</text>
<text class="c" x="445.1" y="135.94">20</text>
<text class="c" x="445.1" y="105.78">40</text>
<text class="c" x="445.1" y="75.62">60</text>
<text class="c" x="445.1" y="45.46">80</text>
<text class="c" x="445.1" y="15.6">100</text>
<text class="t" style="font-size:8.3px" x="437.75" y="8.6" text-anchor="middle">kW</text>
<text class="t" x="326.8" y="16.1" text-anchor="end">0.4</text>
<text class="t" x="326.8" y="53.8" text-anchor="end">0.2</text>
<text class="t" x="326.8" y="91.5" text-anchor="end">0</text>
<text class="t" x="326.8" y="129.2" text-anchor="end">-0.2</text>
<text class="t" x="326.8" y="166.9" text-anchor="end">-0.4</text>
<text class="t" x="348.08" y="174.5" text-anchor="middle">0.4</text>
<text class="t" x="385.64" y="174.5" text-anchor="middle">0.6</text>
<text class="t" x="423.2" y="174.5" text-anchor="middle">0.8</text>
<svg x="482.3" y="13.2" width="94.1" height="150.3" viewBox="0 0 91 146" preserveAspectRatio="none" overflow="hidden">
<g filter="url(#jm)"><rect x="0" y="0" width="91" height="146" fill="#000"/>
<g clip-path="url(#vc)">
<path d="M31.5 130.5C30.8 130.5 30.6 129.0 29.9 127.9C29.2 126.9 28.3 125.9 27.3 124.1C26.4 122.3 25.1 119.5 24.1 117.1C23.1 114.6 22.3 112.0 21.5 109.4C20.8 106.9 20.2 104.3 19.7 101.7C19.1 99.2 18.6 98.5 18.2 94.1C17.8 89.7 17.7 82.9 17.5 75.5C17.3 68.1 17.0 55.4 17.1 49.9C17.2 44.5 17.8 44.9 18.2 42.8C18.7 40.8 19.1 39.5 19.9 37.7C20.6 35.9 21.5 33.6 22.8 32.0C24.2 30.3 26.3 28.8 28.0 27.7C29.7 26.7 31.3 26.2 33.0 25.8C34.7 25.4 36.5 25.2 38.2 25.2C39.9 25.1 41.4 25.1 43.2 25.5C45.1 26.0 47.5 26.9 49.3 27.7C51.2 28.6 52.7 29.6 54.4 30.7C56.1 31.8 57.8 33.0 59.5 34.5C61.2 36.0 63.0 37.8 64.6 39.6C66.2 41.4 67.9 43.6 69.1 45.3C70.3 47.0 70.8 47.9 71.7 49.9C72.5 52.0 73.5 55.0 74.2 57.6C74.8 60.1 75.2 62.9 75.4 65.3C75.7 67.6 75.8 69.5 75.8 71.6C75.8 73.8 75.6 75.9 75.2 78.1C74.8 80.2 74.3 82.3 73.5 84.4C72.7 86.5 71.3 89.0 70.4 90.8C69.4 92.6 69.1 93.5 67.8 95.3C66.5 97.1 64.3 99.5 62.6 101.7C60.8 103.9 59.2 106.1 57.3 108.3C55.4 110.5 53.4 112.9 51.1 114.9C48.7 116.9 45.4 118.8 43.2 120.3C41.1 121.8 39.8 122.8 38.2 124.1C36.6 125.3 34.8 126.9 33.7 127.9C32.6 129.0 32.1 130.5 31.5 130.5Z" fill="#fff" fill-opacity="0.065" filter="url(#b6)"/>
<path d="M50 26 C64 33 76 52 77 72 C77 84 72 94 66 102" fill="none" stroke="#fff" stroke-opacity="0.075" stroke-width="10" stroke-linecap="round" filter="url(#b4)"/>
<ellipse cx="36" cy="120" rx="32" ry="14" fill="#fff" fill-opacity="0.14" filter="url(#b6)"/>
<path d="M8 90 C8 112 14 127 28 132" fill="none" stroke="#fff" stroke-opacity="0.33" stroke-width="13" stroke-linecap="round" filter="url(#b4)"/>
<path d="M28 132 C42 133 56 127 69 114" fill="none" stroke="#fff" stroke-opacity="0.3" stroke-width="11" stroke-linecap="round" filter="url(#b4)"/>
<ellipse cx="12.5" cy="113" rx="4" ry="4.5" fill="#fff" fill-opacity="0.2" filter="url(#b2)"/>
<ellipse cx="61.4" cy="122.5" rx="3.6" ry="3.2" fill="#fff" fill-opacity="0.42" filter="url(#b2)"/>
<ellipse cx="47" cy="129" rx="8" ry="4" fill="#fff" fill-opacity="0.4" filter="url(#b2)" transform="rotate(-15 47 129)"/>
<ellipse cx="32" cy="133" rx="15" ry="9.5" fill="#fff" fill-opacity="0.55" filter="url(#b3)"/>
<ellipse cx="30.3" cy="133.8" rx="10.5" ry="6.3" fill="#fff" fill-opacity="1" filter="url(#b2)"/>
</g></g>
<use href="#flux"/>
<g fill="none" stroke="#cfd3ee" stroke-width="0.75" stroke-dasharray="5 2.5"><use href="#dw" stroke-opacity="0.6"/><use href="#dl" stroke-opacity="0.38"/></g>
<g fill="none" stroke="#a81c48" stroke-opacity="0.75" stroke-width="0.7"><use href="#sep"/><use href="#leg"/></g>
<use href="#ves" fill="none" stroke="#fff" stroke-width="1.4"/>
<text class="p" x="2.2" y="10.6">d)</text>
<text class="w" x="86.6" y="8.2" text-anchor="end">1186 ms</text>
</svg>
<rect x="589.9" y="12.6" width="9.2" height="150.9" fill="url(#jet)"/>
<text class="c" x="601.4" y="165.9">0</text>
<text class="c" x="601.4" y="136.42">20</text>
<text class="c" x="601.4" y="106.24">40</text>
<text class="c" x="601.4" y="76.06">60</text>
<text class="c" x="601.4" y="45.88">80</text>
<text class="c" x="601.4" y="16">100</text>
<text class="t" style="font-size:8.3px" x="594.3" y="9" text-anchor="middle">kW</text>
<text class="t" x="479.8" y="17.1" text-anchor="end">0.4</text>
<text class="t" x="479.8" y="54.675" text-anchor="end">0.2</text>
<text class="t" x="479.8" y="92.25" text-anchor="end">0</text>
<text class="t" x="479.8" y="129.825" text-anchor="end">-0.2</text>
<text class="t" x="479.8" y="167.4" text-anchor="end">-0.4</text>
<text class="t" x="501.12" y="175" text-anchor="middle">0.4</text>
<text class="t" x="538.76" y="175" text-anchor="middle">0.6</text>
<text class="t" x="576.4" y="175" text-anchor="middle">0.8</text>
<svg x="31.1" y="185.4" width="91.7" height="146.8" viewBox="0 0 91 146" preserveAspectRatio="none" overflow="hidden">
<g filter="url(#jm)"><rect x="0" y="0" width="91" height="146" fill="#000"/>
<g clip-path="url(#vc)">
<path d="M31.5 130.5C30.8 130.5 30.6 129.0 29.9 127.9C29.2 126.9 28.3 125.9 27.3 124.1C26.4 122.3 25.1 119.5 24.1 117.1C23.1 114.6 22.3 112.0 21.5 109.4C20.8 106.9 20.2 104.3 19.7 101.7C19.1 99.2 18.6 98.5 18.2 94.1C17.8 89.7 17.7 82.9 17.5 75.5C17.3 68.1 17.0 55.4 17.1 49.9C17.2 44.5 17.8 44.9 18.2 42.8C18.7 40.8 19.1 39.5 19.9 37.7C20.6 35.9 21.5 33.6 22.8 32.0C24.2 30.3 26.3 28.8 28.0 27.7C29.7 26.7 31.3 26.2 33.0 25.8C34.7 25.4 36.5 25.2 38.2 25.2C39.9 25.1 41.4 25.1 43.2 25.5C45.1 26.0 47.5 26.9 49.3 27.7C51.2 28.6 52.7 29.6 54.4 30.7C56.1 31.8 57.8 33.0 59.5 34.5C61.2 36.0 63.0 37.8 64.6 39.6C66.2 41.4 67.9 43.6 69.1 45.3C70.3 47.0 70.8 47.9 71.7 49.9C72.5 52.0 73.5 55.0 74.2 57.6C74.8 60.1 75.2 62.9 75.4 65.3C75.7 67.6 75.8 69.5 75.8 71.6C75.8 73.8 75.6 75.9 75.2 78.1C74.8 80.2 74.3 82.3 73.5 84.4C72.7 86.5 71.3 89.0 70.4 90.8C69.4 92.6 69.1 93.5 67.8 95.3C66.5 97.1 64.3 99.5 62.6 101.7C60.8 103.9 59.2 106.1 57.3 108.3C55.4 110.5 53.4 112.9 51.1 114.9C48.7 116.9 45.4 118.8 43.2 120.3C41.1 121.8 39.8 122.8 38.2 124.1C36.6 125.3 34.8 126.9 33.7 127.9C32.6 129.0 32.1 130.5 31.5 130.5Z" fill="#fff" fill-opacity="0.1" filter="url(#b3)"/>
<path d="M20.5 91 C21.5 106 24.5 115 31 120.5 C39 124.5 50 126 60 124 C66 122 70 118 74 113" fill="none" stroke="#fff" stroke-opacity="0.04" stroke-width="10" stroke-linecap="round" filter="url(#b4)"/>
</g></g>
<use href="#flux"/>
<g fill="none" stroke="#cfd3ee" stroke-width="0.75" stroke-dasharray="5 2.5"><use href="#dw" stroke-opacity="0.6"/><use href="#dl" stroke-opacity="0.38"/></g>
<g fill="none" stroke="#a81c48" stroke-opacity="0.75" stroke-width="0.7"><use href="#sep"/><use href="#leg"/></g>
<use href="#ves" fill="none" stroke="#fff" stroke-width="1.4"/>
<text class="p" x="2.2" y="10.6">e)</text>
<text class="w" x="86.6" y="8.2" text-anchor="end">1090 ms</text>
<text x="89" y="133" text-anchor="end" font-size="6.1" font-weight="bold" style="fill:#2fe62f">HFS</text>
<text class="w" x="89" y="142.2" text-anchor="end">#13729</text>
</svg>
<rect x="133.1" y="186" width="8.8" height="146.2" fill="url(#jet)"/>
<text class="c" x="144.2" y="334.6">0</text>
<text class="c" x="144.2" y="306.06">20</text>
<text class="c" x="144.2" y="276.82">40</text>
<text class="c" x="144.2" y="247.58">60</text>
<text class="c" x="144.2" y="218.34">80</text>
<text class="c" x="144.2" y="189.4">100</text>
<text class="t" style="font-size:8.3px" x="137.3" y="182.4" text-anchor="middle">kW</text>
<text class="t" x="28.6" y="189.3" text-anchor="end">0.4</text>
<text class="t" x="28.6" y="226" text-anchor="end">0.2</text>
<text class="t" x="28.6" y="262.7" text-anchor="end">0</text>
<text class="t" x="28.6" y="299.4" text-anchor="end">-0.2</text>
<text class="t" x="28.6" y="336.1" text-anchor="end">-0.4</text>
<text class="t" x="49.44" y="343.7" text-anchor="middle">0.4</text>
<text class="t" x="86.12" y="343.7" text-anchor="middle">0.6</text>
<text class="t" x="122.8" y="343.7" text-anchor="middle">0.8</text>
<text class="l" x="76.95" y="355.7" text-anchor="middle">R [m]</text>
<text class="l" transform="translate(8.3 258.8) rotate(-90)" text-anchor="middle">z [m]</text>
<svg x="179.3" y="183.5" width="93.5" height="149.4" viewBox="0 0 91 146" preserveAspectRatio="none" overflow="hidden">
<g filter="url(#jm)"><rect x="0" y="0" width="91" height="146" fill="#000"/>
<g clip-path="url(#vc)">
<path d="M31.5 130.5C30.8 130.5 30.6 129.0 29.9 127.9C29.2 126.9 28.3 125.9 27.3 124.1C26.4 122.3 25.1 119.5 24.1 117.1C23.1 114.6 22.3 112.0 21.5 109.4C20.8 106.9 20.2 104.3 19.7 101.7C19.1 99.2 18.6 98.5 18.2 94.1C17.8 89.7 17.7 82.9 17.5 75.5C17.3 68.1 17.0 55.4 17.1 49.9C17.2 44.5 17.8 44.9 18.2 42.8C18.7 40.8 19.1 39.5 19.9 37.7C20.6 35.9 21.5 33.6 22.8 32.0C24.2 30.3 26.3 28.8 28.0 27.7C29.7 26.7 31.3 26.2 33.0 25.8C34.7 25.4 36.5 25.2 38.2 25.2C39.9 25.1 41.4 25.1 43.2 25.5C45.1 26.0 47.5 26.9 49.3 27.7C51.2 28.6 52.7 29.6 54.4 30.7C56.1 31.8 57.8 33.0 59.5 34.5C61.2 36.0 63.0 37.8 64.6 39.6C66.2 41.4 67.9 43.6 69.1 45.3C70.3 47.0 70.8 47.9 71.7 49.9C72.5 52.0 73.5 55.0 74.2 57.6C74.8 60.1 75.2 62.9 75.4 65.3C75.7 67.6 75.8 69.5 75.8 71.6C75.8 73.8 75.6 75.9 75.2 78.1C74.8 80.2 74.3 82.3 73.5 84.4C72.7 86.5 71.3 89.0 70.4 90.8C69.4 92.6 69.1 93.5 67.8 95.3C66.5 97.1 64.3 99.5 62.6 101.7C60.8 103.9 59.2 106.1 57.3 108.3C55.4 110.5 53.4 112.9 51.1 114.9C48.7 116.9 45.4 118.8 43.2 120.3C41.1 121.8 39.8 122.8 38.2 124.1C36.6 125.3 34.8 126.9 33.7 127.9C32.6 129.0 32.1 130.5 31.5 130.5Z" fill="#fff" fill-opacity="0.13" filter="url(#b3)"/>
<ellipse cx="49.5" cy="66" rx="5" ry="8" fill="#000" fill-opacity="0.5" filter="url(#b4)"/>
<ellipse cx="38" cy="112" rx="30" ry="18" fill="#fff" fill-opacity="0.06" filter="url(#b6)"/>
<path d="M20.5 91 C21.5 106 24.5 115 31 120.5 C39 124.5 50 126 60 124 C66 122 70 118 74 113" fill="none" stroke="#fff" stroke-opacity="0.22" stroke-width="11" stroke-linecap="round" filter="url(#b4)"/>
<path d="M22.5 103 C24 112 26.5 117 31.5 120.5 C37 123.5 44 125.5 56 125" fill="none" stroke="#fff" stroke-opacity="0.2" stroke-width="8.5" stroke-linecap="round" filter="url(#b3)"/>
<ellipse cx="29.5" cy="119.5" rx="10" ry="5" fill="#fff" fill-opacity="0.19" filter="url(#b2)" transform="rotate(26 29.5 119.5)"/>
</g></g>
<use href="#flux"/>
<g fill="none" stroke="#cfd3ee" stroke-width="0.75" stroke-dasharray="5 2.5"><use href="#dw" stroke-opacity="0.6"/><use href="#dl" stroke-opacity="0.38"/></g>
<g fill="none" stroke="#a81c48" stroke-opacity="0.75" stroke-width="0.7"><use href="#sep"/><use href="#leg"/></g>
<use href="#ves" fill="none" stroke="#fff" stroke-width="1.4"/>
<text class="p" x="2.2" y="10.6">f)</text>
<text class="w" x="86.6" y="8.2" text-anchor="end">1120 ms</text>
</svg>
<rect x="282.8" y="184" width="9.1" height="148.9" fill="url(#jet)"/>
<text class="c" x="294.2" y="335.3">0</text>
<text class="c" x="294.2" y="306.22">20</text>
<text class="c" x="294.2" y="276.44">40</text>
<text class="c" x="294.2" y="246.66">60</text>
<text class="c" x="294.2" y="216.88">80</text>
<text class="c" x="294.2" y="187.4">100</text>
<text class="t" style="font-size:8.3px" x="287.15" y="180.4" text-anchor="middle">kW</text>
<text class="t" x="176.8" y="187.4" text-anchor="end">0.4</text>
<text class="t" x="176.8" y="224.75" text-anchor="end">0.2</text>
<text class="t" x="176.8" y="262.1" text-anchor="end">0</text>
<text class="t" x="176.8" y="299.45" text-anchor="end">-0.2</text>
<text class="t" x="176.8" y="336.8" text-anchor="end">-0.4</text>
<text class="t" x="198" y="344.4" text-anchor="middle">0.4</text>
<text class="t" x="235.4" y="344.4" text-anchor="middle">0.6</text>
<text class="t" x="272.8" y="344.4" text-anchor="middle">0.8</text>
<text class="l" x="226.05" y="356.4" text-anchor="middle">R [m]</text>
<svg x="331.1" y="184.6" width="92" height="146.9" viewBox="0 0 91 146" preserveAspectRatio="none" overflow="hidden">
<g filter="url(#jm)"><rect x="0" y="0" width="91" height="146" fill="#000"/>
<g clip-path="url(#vc)">
<path d="M31.5 130.5C30.8 130.5 30.6 129.0 29.9 127.9C29.2 126.9 28.3 125.9 27.3 124.1C26.4 122.3 25.1 119.5 24.1 117.1C23.1 114.6 22.3 112.0 21.5 109.4C20.8 106.9 20.2 104.3 19.7 101.7C19.1 99.2 18.6 98.5 18.2 94.1C17.8 89.7 17.7 82.9 17.5 75.5C17.3 68.1 17.0 55.4 17.1 49.9C17.2 44.5 17.8 44.9 18.2 42.8C18.7 40.8 19.1 39.5 19.9 37.7C20.6 35.9 21.5 33.6 22.8 32.0C24.2 30.3 26.3 28.8 28.0 27.7C29.7 26.7 31.3 26.2 33.0 25.8C34.7 25.4 36.5 25.2 38.2 25.2C39.9 25.1 41.4 25.1 43.2 25.5C45.1 26.0 47.5 26.9 49.3 27.7C51.2 28.6 52.7 29.6 54.4 30.7C56.1 31.8 57.8 33.0 59.5 34.5C61.2 36.0 63.0 37.8 64.6 39.6C66.2 41.4 67.9 43.6 69.1 45.3C70.3 47.0 70.8 47.9 71.7 49.9C72.5 52.0 73.5 55.0 74.2 57.6C74.8 60.1 75.2 62.9 75.4 65.3C75.7 67.6 75.8 69.5 75.8 71.6C75.8 73.8 75.6 75.9 75.2 78.1C74.8 80.2 74.3 82.3 73.5 84.4C72.7 86.5 71.3 89.0 70.4 90.8C69.4 92.6 69.1 93.5 67.8 95.3C66.5 97.1 64.3 99.5 62.6 101.7C60.8 103.9 59.2 106.1 57.3 108.3C55.4 110.5 53.4 112.9 51.1 114.9C48.7 116.9 45.4 118.8 43.2 120.3C41.1 121.8 39.8 122.8 38.2 124.1C36.6 125.3 34.8 126.9 33.7 127.9C32.6 129.0 32.1 130.5 31.5 130.5Z" fill="#fff" fill-opacity="0.17" filter="url(#b3)"/>
<ellipse cx="49.5" cy="66" rx="5" ry="8" fill="#000" fill-opacity="0.5" filter="url(#b4)"/>
<ellipse cx="38" cy="112" rx="30" ry="18" fill="#fff" fill-opacity="0.06" filter="url(#b6)"/>
<path d="M20.5 91 C21.5 106 24.5 115 31 120.5 C39 124.5 50 126 60 124 C66 122 70 118 74 113" fill="none" stroke="#fff" stroke-opacity="0.24" stroke-width="11" stroke-linecap="round" filter="url(#b4)"/>
<path d="M22.5 103 C24 112 26.5 117.5 31.5 121 C37 124 44 126 58 125" fill="none" stroke="#fff" stroke-opacity="0.22" stroke-width="8.5" stroke-linecap="round" filter="url(#b3)"/>
<ellipse cx="31" cy="122" rx="12" ry="4.8" fill="#fff" fill-opacity="0.41" filter="url(#b2)" transform="rotate(24 31 122)"/>
</g></g>
<use href="#flux"/>
<g fill="none" stroke="#cfd3ee" stroke-width="0.75" stroke-dasharray="5 2.5"><use href="#dw" stroke-opacity="0.6"/><use href="#dl" stroke-opacity="0.38"/></g>
<g fill="none" stroke="#a81c48" stroke-opacity="0.75" stroke-width="0.7"><use href="#sep"/><use href="#leg"/></g>
<use href="#ves" fill="none" stroke="#fff" stroke-width="1.4"/>
<text class="p" x="2.2" y="10.6">g)</text>
<text class="w" x="86.6" y="8.2" text-anchor="end">1150 ms</text>
</svg>
<rect x="432.6" y="184.4" width="8.8" height="147.1" fill="url(#jet)"/>
<text class="c" x="443.7" y="333.9">0</text>
<text class="c" x="443.7" y="305.18">20</text>
<text class="c" x="443.7" y="275.76">40</text>
<text class="c" x="443.7" y="246.34">60</text>
<text class="c" x="443.7" y="216.92">80</text>
<text class="c" x="443.7" y="187.8">100</text>
<text class="t" style="font-size:8.3px" x="436.8" y="180.8" text-anchor="middle">kW</text>
<text class="t" x="328.6" y="188.5" text-anchor="end">0.4</text>
<text class="t" x="328.6" y="225.225" text-anchor="end">0.2</text>
<text class="t" x="328.6" y="261.95" text-anchor="end">0</text>
<text class="t" x="328.6" y="298.675" text-anchor="end">-0.2</text>
<text class="t" x="328.6" y="335.4" text-anchor="end">-0.4</text>
<text class="t" x="349.5" y="343" text-anchor="middle">0.4</text>
<text class="t" x="386.3" y="343" text-anchor="middle">0.6</text>
<text class="t" x="423.1" y="343" text-anchor="middle">0.8</text>
<text class="l" x="377.1" y="355" text-anchor="middle">R [m]</text>
<svg x="483.7" y="186.6" width="91.3" height="145" viewBox="0 0 91 146" preserveAspectRatio="none" overflow="hidden">
<g filter="url(#jm)"><rect x="0" y="0" width="91" height="146" fill="#000"/>
<g clip-path="url(#vc)">
<path d="M31.5 130.5C30.8 130.5 30.6 129.0 29.9 127.9C29.2 126.9 28.3 125.9 27.3 124.1C26.4 122.3 25.1 119.5 24.1 117.1C23.1 114.6 22.3 112.0 21.5 109.4C20.8 106.9 20.2 104.3 19.7 101.7C19.1 99.2 18.6 98.5 18.2 94.1C17.8 89.7 17.7 82.9 17.5 75.5C17.3 68.1 17.0 55.4 17.1 49.9C17.2 44.5 17.8 44.9 18.2 42.8C18.7 40.8 19.1 39.5 19.9 37.7C20.6 35.9 21.5 33.6 22.8 32.0C24.2 30.3 26.3 28.8 28.0 27.7C29.7 26.7 31.3 26.2 33.0 25.8C34.7 25.4 36.5 25.2 38.2 25.2C39.9 25.1 41.4 25.1 43.2 25.5C45.1 26.0 47.5 26.9 49.3 27.7C51.2 28.6 52.7 29.6 54.4 30.7C56.1 31.8 57.8 33.0 59.5 34.5C61.2 36.0 63.0 37.8 64.6 39.6C66.2 41.4 67.9 43.6 69.1 45.3C70.3 47.0 70.8 47.9 71.7 49.9C72.5 52.0 73.5 55.0 74.2 57.6C74.8 60.1 75.2 62.9 75.4 65.3C75.7 67.6 75.8 69.5 75.8 71.6C75.8 73.8 75.6 75.9 75.2 78.1C74.8 80.2 74.3 82.3 73.5 84.4C72.7 86.5 71.3 89.0 70.4 90.8C69.4 92.6 69.1 93.5 67.8 95.3C66.5 97.1 64.3 99.5 62.6 101.7C60.8 103.9 59.2 106.1 57.3 108.3C55.4 110.5 53.4 112.9 51.1 114.9C48.7 116.9 45.4 118.8 43.2 120.3C41.1 121.8 39.8 122.8 38.2 124.1C36.6 125.3 34.8 126.9 33.7 127.9C32.6 129.0 32.1 130.5 31.5 130.5Z" fill="#fff" fill-opacity="0.16" filter="url(#b3)"/>
<ellipse cx="49.5" cy="66" rx="5" ry="8" fill="#000" fill-opacity="0.5" filter="url(#b4)"/>
<ellipse cx="38" cy="112" rx="30" ry="18" fill="#fff" fill-opacity="0.06" filter="url(#b6)"/>
<path d="M20.5 91 C21.5 106 24.5 115 31 120.5 C39 124.5 50 126 60 124 C66 122 70 118 74 113" fill="none" stroke="#fff" stroke-opacity="0.23" stroke-width="11" stroke-linecap="round" filter="url(#b4)"/>
<path d="M22.5 103 C24 112 26.5 117 31.5 120.5 C37 123.5 44 125.5 58 124.5" fill="none" stroke="#fff" stroke-opacity="0.23" stroke-width="8.5" stroke-linecap="round" filter="url(#b3)"/>
<ellipse cx="29" cy="119.5" rx="10" ry="4.6" fill="#fff" fill-opacity="0.27" filter="url(#b2)" transform="rotate(28 29 119.5)"/>
</g></g>
<use href="#flux"/>
<g fill="none" stroke="#cfd3ee" stroke-width="0.75" stroke-dasharray="5 2.5"><use href="#dw" stroke-opacity="0.6"/><use href="#dl" stroke-opacity="0.38"/></g>
<g fill="none" stroke="#a81c48" stroke-opacity="0.75" stroke-width="0.7"><use href="#sep"/><use href="#leg"/></g>
<use href="#ves" fill="none" stroke="#fff" stroke-width="1.4"/>
<text class="p" x="2.2" y="10.6">h)</text>
<text class="w" x="86.6" y="8.2" text-anchor="end">1185 ms</text>
</svg>
<rect x="581.9" y="186.6" width="8.9" height="145" fill="url(#jet)"/>
<text class="c" x="593.1" y="334">0</text>
<text class="c" x="593.1" y="305.7">20</text>
<text class="c" x="593.1" y="276.7">40</text>
<text class="c" x="593.1" y="247.7">60</text>
<text class="c" x="593.1" y="218.7">80</text>
<text class="c" x="593.1" y="190">100</text>
<text class="t" style="font-size:8.3px" x="586.15" y="183" text-anchor="middle">kW</text>
<text class="t" x="481.2" y="190.5" text-anchor="end">0.4</text>
<text class="t" x="481.2" y="226.75" text-anchor="end">0.2</text>
<text class="t" x="481.2" y="263" text-anchor="end">0</text>
<text class="t" x="481.2" y="299.25" text-anchor="end">-0.2</text>
<text class="t" x="481.2" y="335.5" text-anchor="end">-0.4</text>
<text class="t" x="501.96" y="343.1" text-anchor="middle">0.4</text>
<text class="t" x="538.48" y="343.1" text-anchor="middle">0.6</text>
<text class="t" x="575" y="343.1" text-anchor="middle">0.8</text>
<text class="l" x="529.35" y="355.1" text-anchor="middle">R [m]</text>
</svg></body></html>
